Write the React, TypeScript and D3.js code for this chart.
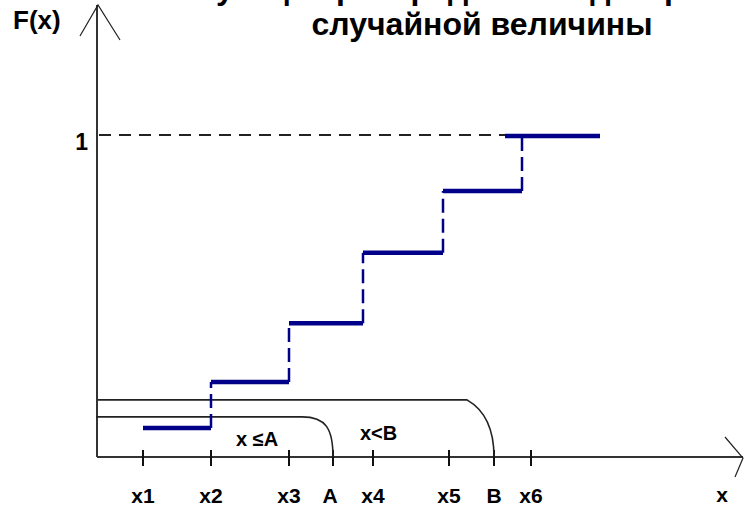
import React from "react";
import * as d3 from "d3";

// Horizontal positions (abstract units from the F axis)
const tickLabels = ["x1", "x2", "x3", "A", "x4", "x5", "B", "x6"];
const tickValues = [46, 114, 192, 236, 276, 352, 397, 434];
// Step function F(x)
const stepStarts = [46, 114, 192, 266, 346, 408];
const stepEnds = [114, 192, 266, 346, 425, 503];
const stepF = [0.09, 0.234, 0.417, 0.636, 0.829, 1];
// Interval brackets: {end of flat part, level, point on axis}
const brackets = [
  { label: "x ≤A", flatEnd: 205, level: 0.125, target: 236, lx: 139, ly: 0.034 },
  { label: "x<B", flatEnd: 370, level: 0.178, target: 397, lx: 263, ly: 0.053 },
];
const titleLines = ["Функция распределения дискретной", "случайной величины"];

const W = 749;
const H = 509;

export default function App() {
  const x = d3.scaleLinear().domain([0, 646]).range([97, 743]);
  const y = d3.scaleLinear().domain([0, 1]).range([457, 136]);
  const x0 = x(0);
  const y0 = y(0);
  const blue = "#000088";
  const font = "'Liberation Sans', Arial, sans-serif";

  const bracketPath = (b: typeof brackets[number], i: number) => {
    const p = d3.path();
    const sx = i === 0 ? x0 - 1 : x0 + 1;
    const yl = y(b.level);
    p.moveTo(sx, yl);
    p.lineTo(x(b.flatEnd), yl);
    const ex = x(b.target);
    if (i === 0) {
      p.bezierCurveTo(x(b.flatEnd) + 24, yl, ex, yl + 12, ex, y0);
    } else {
      p.bezierCurveTo(x(b.flatEnd) + 14, yl + 8, ex, yl + 25, ex, y0);
    }
    return p.toString();
  };

  return (
    <svg
      width={W}
      height={H}
      style={{ position: "absolute", left: 0, top: 0, background: "#fff" }}
      fontFamily={font}
      fontWeight="bold"
    >
      <rect width={W} height={H} fill="#fff" />
      {/* title (first line runs off the top edge, as in the reference) */}
      <text x={482} y={-1} fontSize={32} textAnchor="middle" fill="#000">
        {titleLines[0]}
      </text>
      <text x={482} y={35} fontSize={32} textAnchor="middle" fill="#000">
        {titleLines[1]}
      </text>

      {/* axes */}
      <line x1={x0} y1={y0} x2={x0} y2={5} stroke="#333" strokeWidth={2} />
      <line x1={x0} y1={y0} x2={743} y2={y0} stroke="#333" strokeWidth={2} />
      <polyline points="80,36 98,5 120,40" fill="none" stroke="#222" strokeWidth={1.2} />
      <polyline points="725,437 743,458 735,477" fill="none" stroke="#222" strokeWidth={1.2} />
      <text x={13} y={29} fontSize={26} fill="#000">F(x)</text>
      <text x={722} y={502} fontSize={21} textAnchor="middle" fill="#000">x</text>

      {/* ticks */}
      {tickValues.map((v, i) => (
        <g key={tickLabels[i]}>
          <line x1={x(v)} x2={x(v)} y1={450} y2={466} stroke="#111" strokeWidth={2} />
          <text x={x(v) - (tickLabels[i] === "A" ? 3 : 0)} y={503} fontSize={21} textAnchor="middle" fill="#000">
            {tickLabels[i]}
          </text>
        </g>
      ))}

      {/* level 1 */}
      <line x1={x0 + 2} x2={x(stepStarts[5])} y1={y(1) - 1} y2={y(1) - 1} stroke="#222" strokeWidth={2} strokeDasharray="12,8" />
      <text x={88} y={150} fontSize={23} textAnchor="end" fill="#000">1</text>

      {/* brackets */}
      {brackets.map((b, i) => (
        <g key={b.label}>
          <path d={bracketPath(b, i)} fill="none" stroke="#222" strokeWidth={1.6} />
          <text x={x(b.lx)} y={y(b.ly)} fontSize={20} fill="#000">{b.label}</text>
        </g>
      ))}

      {/* step jumps */}
      {stepF.slice(0, -1).map((f, i) => (
        <line
          key={"j" + i}
          x1={x(stepEnds[i])}
          x2={x(stepEnds[i])}
          y1={y(f)}
          y2={y(stepF[i + 1])}
          stroke={blue}
          strokeWidth={2.5}
          strokeDasharray="14,6"
        />
      ))}
      {/* steps */}
      {stepF.map((f, i) => (
        <line
          key={"s" + i}
          x1={x(stepStarts[i])}
          x2={x(stepEnds[i])}
          y1={y(f)}
          y2={y(f)}
          stroke={blue}
          strokeWidth={4.5}
        />
      ))}
    </svg>
  );
}
